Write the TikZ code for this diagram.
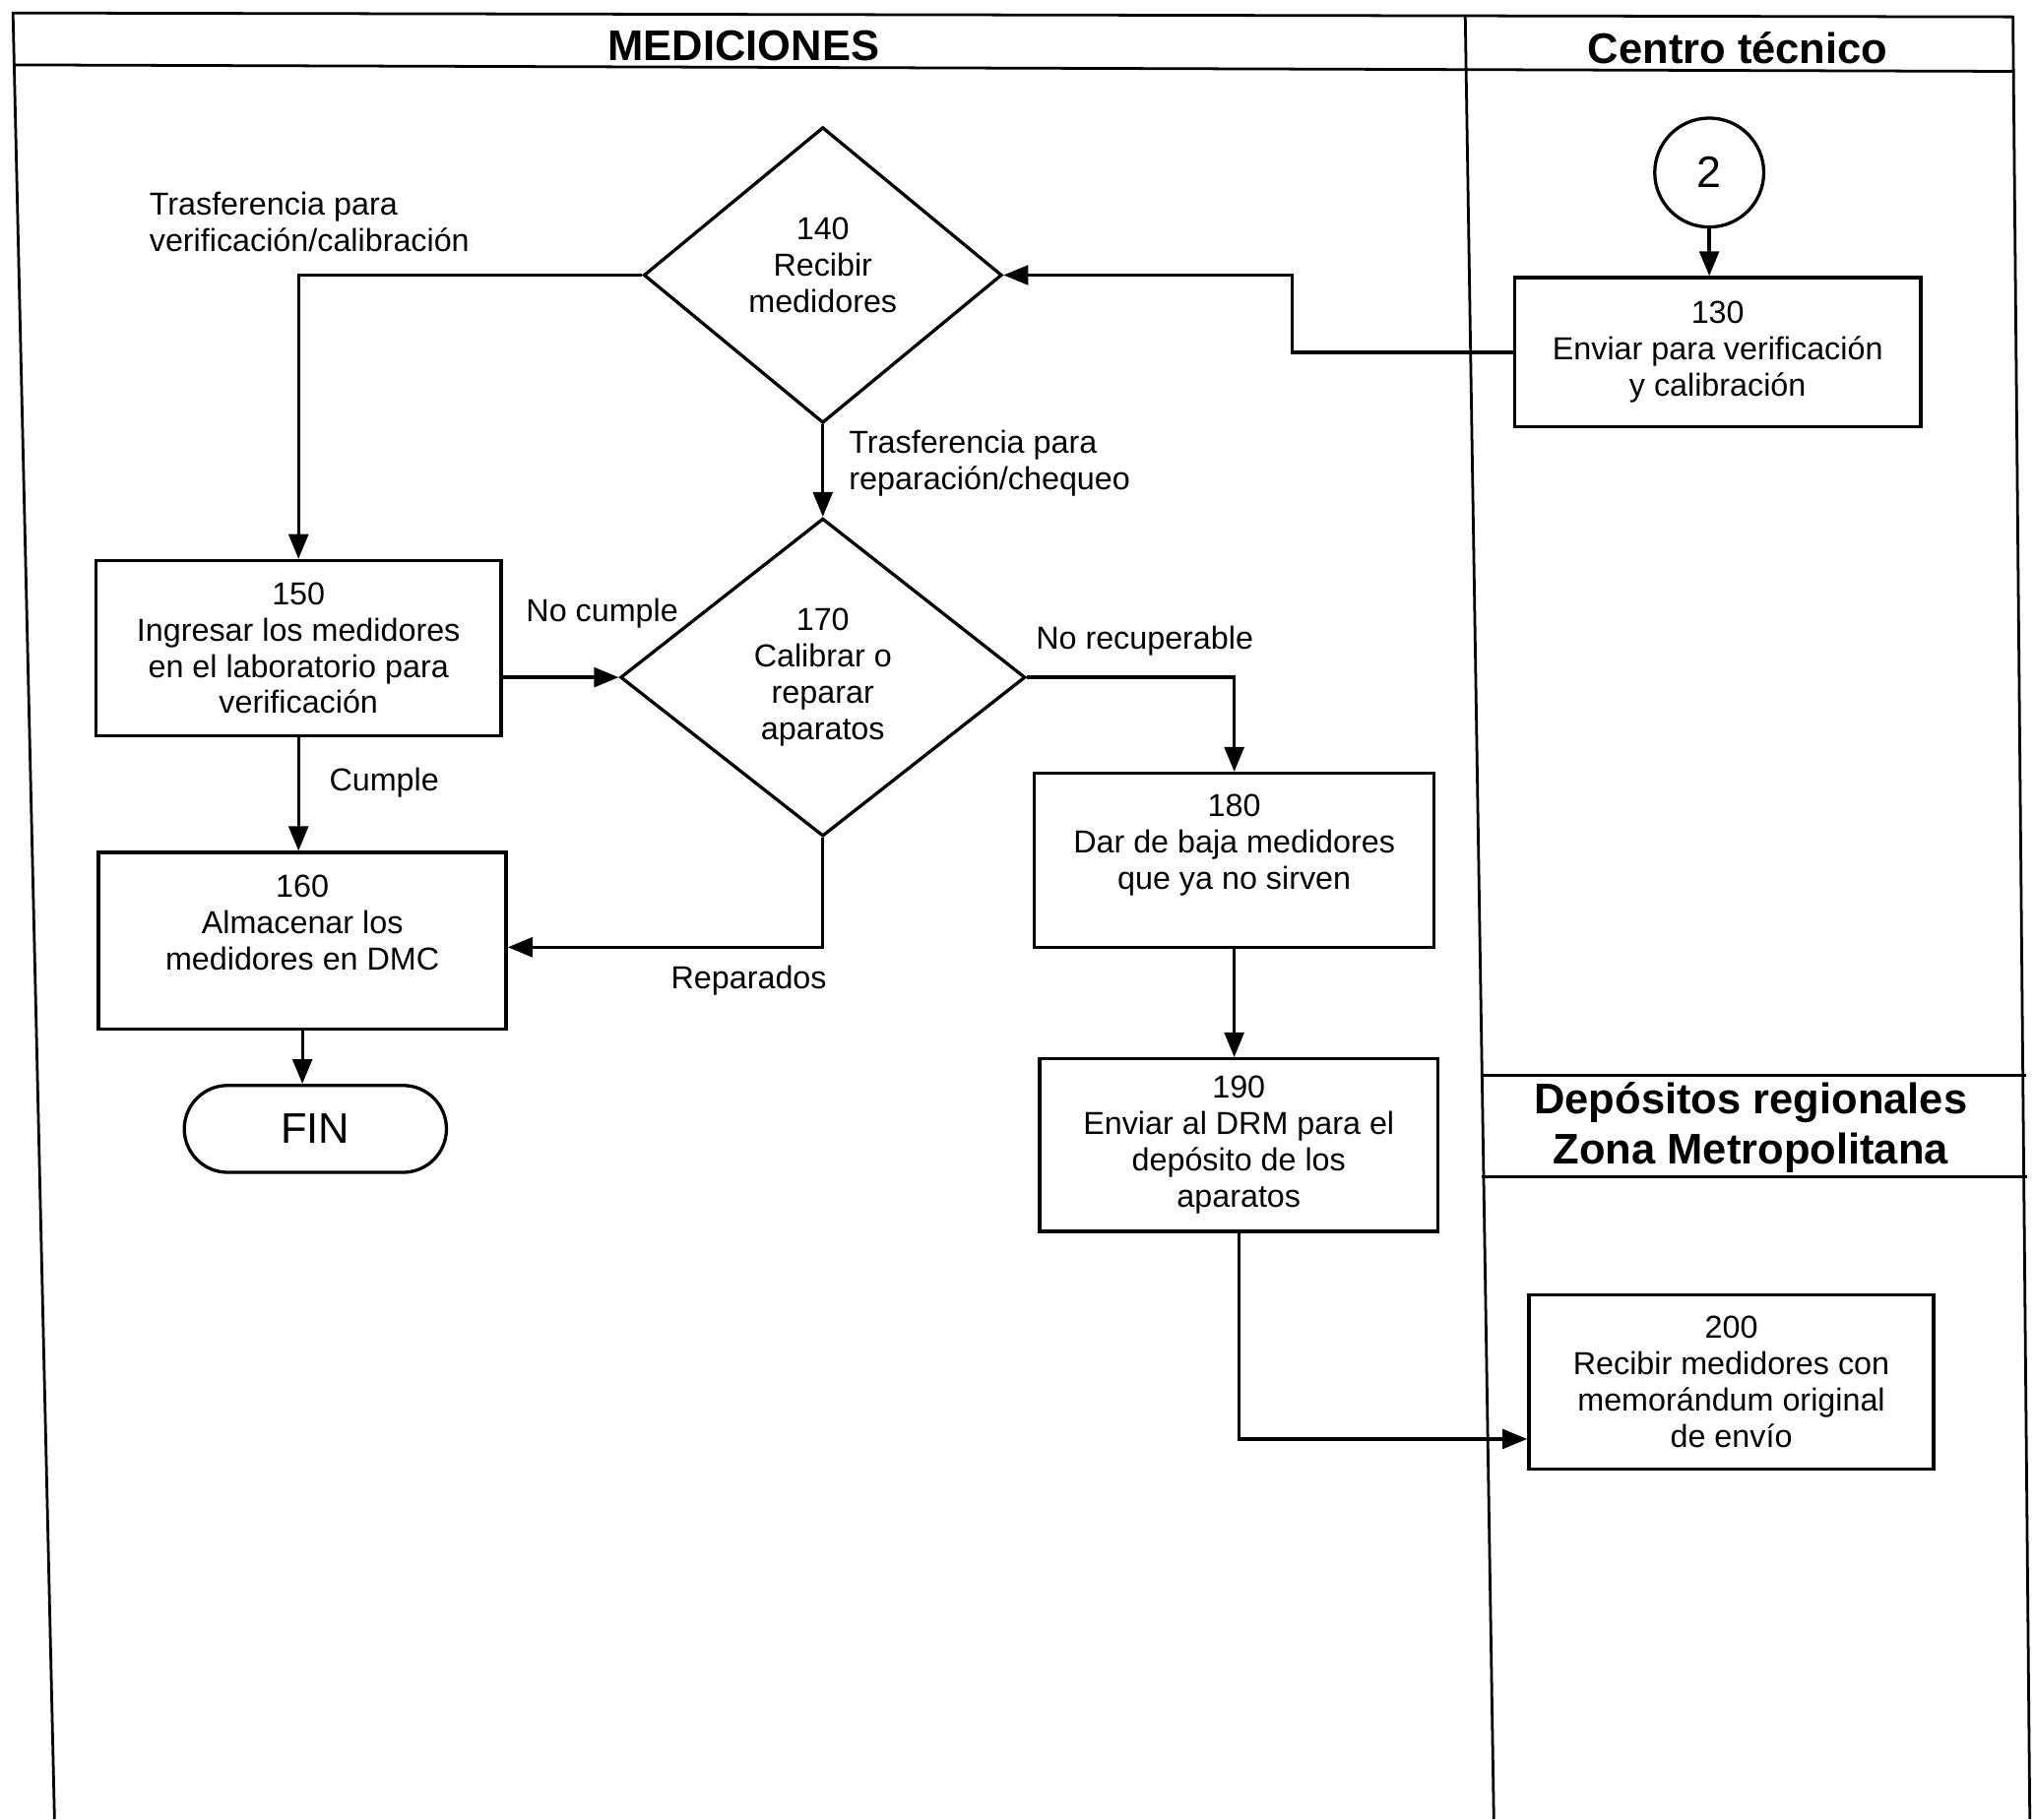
\documentclass[tikz,border=0pt]{standalone}
\usepackage{fontspec}
\setmainfont{Liberation Sans}
\usetikzlibrary{arrows.meta,shapes.geometric,shapes.misc}
\begin{document}
\begin{tikzpicture}[x=1pt,y=-1pt,
  lane/.style={line width=2.1pt},
  box/.style={draw,line width=2.6pt,rectangle,align=center,inner sep=0pt,font=\fontsize{24.5}{28}\selectfont},
  dec/.style={draw,line width=2.5pt,diamond,align=center,inner sep=0pt,font=\fontsize{24.5}{28}\selectfont},
  flow/.style={line width=2.5pt,-{Triangle[length=19pt,width=15pt]}},
  lbl/.style={font=\fontsize{24.5}{28}\selectfont,inner sep=0pt},
  hdr/.style={font=\bfseries\fontsize{33}{38}\selectfont,inner sep=0pt,align=center}]

\fill[white] (0,0) rectangle (1568,1402);
\useasboundingbox (0,0) rectangle (1568,1402);

% swimlane frame
\draw[lane] (42,1402) -- (10,10) -- (1551,13) -- (1564,1402);
\draw[lane] (10,50) -- (1551,55);
\draw[lane] (1129,13) -- (1151,1402);
\draw[lane] (1141,829) -- (1561,829);
\draw[lane] (1142,907) -- (1562,907);

% headers
\node[hdr] (hm) at (573,35) {MEDICIONES};
\node[hdr] (hc) at (1339,37) {Centro técnico};
\node[hdr] (hd) at (1349,869) {Depósitos regionales\\Zona Metropolitana};

% nodes
\node[draw,circle,line width=2.5pt,minimum size=84pt,inner sep=0pt,font=\fontsize{34}{40}\selectfont] (c2) at (1317,133) {2};
\node[box,minimum width=313pt,minimum height=115pt] (b130) at (1323.5,271.5) {130\\Enviar para verificación\\y calibración};
\node[dec,minimum width=276pt,minimum height=228pt] (d140) at (634,212) {140\\Recibir\\medidores\\[-12pt]\mbox{}};
\node[box,minimum width=312pt,minimum height=135pt] (b150) at (230,499.5) {150\\Ingresar los medidores\\en el laboratorio para\\verificación};
\node[dec,minimum width=312pt,minimum height=245pt] (d170) at (634,522) {170\\Calibrar o\\reparar\\aparatos};
\node[box,minimum width=314pt,minimum height=136pt] (b160) at (233,725) {160\\Almacenar los\\medidores en DMC\\\mbox{}};
\node[draw,line width=2.5pt,rounded rectangle,minimum width=202pt,minimum height=67pt,inner sep=0pt,font=\fontsize{33}{38}\selectfont] (fin) at (243,870) {FIN};
\node[box,minimum width=308pt,minimum height=134pt] (b180) at (951,663) {180\\Dar de baja medidores\\que ya no sirven\\\mbox{}};
\node[box,minimum width=307pt,minimum height=133pt] (b190) at (954.5,882.5) {190\\Enviar al DRM para el\\depósito de los\\aparatos};
\node[box,minimum width=312pt,minimum height=134pt] (b200) at (1334,1065) {200\\Recibir medidores con\\memorándum original\\de envío};

% labels
\node[lbl,anchor=west,align=left] (l1) at (115,171) {Trasferencia para\\verificación/calibración};
\node[lbl,anchor=west,align=left] (l2) at (654,357) {Trasferencia para\\reparación/chequeo};
\node[lbl] (l3) at (464,473) {No cumple};
\node[lbl] (l4) at (296,603) {Cumple};
\node[lbl] (l5) at (577,756) {Reparados};
\node[lbl] (l6) at (882,494) {No recuperable};

% connectors
\draw[flow] (c2.south) -- (c2.south |- b130.north);
\draw[flow] (b130.west) -- ++(-170,0) |- (d140.east);
\draw[flow] (d140.west) -| (b150.north);
\draw[flow] (d140.south) -- (d170.north);
\draw[flow] (d170.west -| b150.east) -- (d170.west);
\draw[flow] (b150.south) -- (b150.south |- b160.north);
\draw[flow] (d170.south) |- ([yshift=-5pt]b160.east);
\draw[flow] (b160.south) -- (b160.south |- fin.north);
\draw[flow] (d170.east) -| (b180.north);
\draw[flow] (b180.south) -- (b180.south |- b190.north);
\draw[flow] (b190.south) |- ([yshift=-44pt]b200.west);
\end{tikzpicture}
\end{document}
